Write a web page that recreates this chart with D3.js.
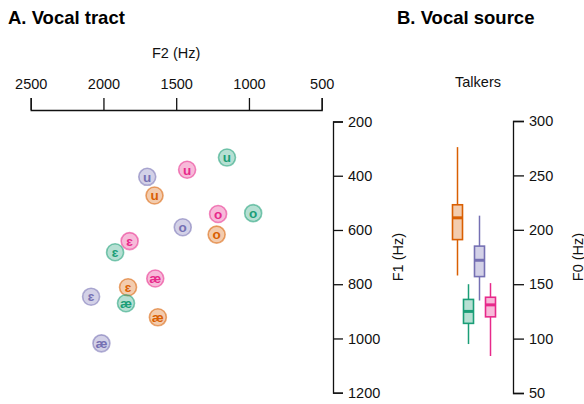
<!DOCTYPE html>
<html>
<head>
<meta charset="utf-8">
<script src="https://cdn.jsdelivr.net/npm/d3@7"></script>
<style>
  body { margin: 0; background: #fff; }
  svg { font-family: "Liberation Sans", Arial, sans-serif; }
  .axis path, .axis line { stroke: #111; stroke-width: 1.3; }
  .axis text { font-size: 14.5px; fill: #111; }
</style>
</head>
<body>
<svg id="chart" width="584" height="404"></svg>
<script>
// talkers (colour order follows the box plot, left to right)
const talkers = ["T1", "T2", "T3", "T4"];
const talkerColors = ["#d95f02", "#1b9e77", "#7570b3", "#e7298a"];

// vowel means per talker
const vowelTalker = ["T2", "T4", "T3", "T1", "T4", "T2", "T3", "T1", "T4", "T2", "T4", "T1", "T3", "T2", "T1", "T3"];
const vowelLabel  = ["u", "u", "u", "u", "o", "o", "o", "o", "ɛ", "ɛ", "æ", "ɛ", "ɛ", "æ", "æ", "æ"];
const vowelF2 = [1151, 1425, 1699, 1649, 1212, 971, 1455, 1222, 1820, 1920, 1644, 1831, 2085, 1845, 1626, 2014];
const vowelF1 = [333, 378, 404, 473, 541, 538, 590, 617, 641, 682, 779, 811, 846, 870, 922, 1018];

// F0 summaries per talker
const f0WhiskerHigh = [276, 150, 213, 151];
const f0Q3 = [223, 136, 185, 138];
const f0Median = [211, 125, 172, 131];
const f0Q1 = [191, 114, 157, 120];
const f0WhiskerLow = [158, 95, 135, 84];

const f2Ticks = [2500, 2000, 1500, 1000, 500];
const f1Ticks = [200, 400, 600, 800, 1000, 1200];
const f0Ticks = [300, 250, 200, 150, 100, 50];

const svg = d3.select("#chart");
const color = d3.scaleOrdinal().domain(talkers).range(talkerColors);

// ---- A. Vocal tract ----
const x = d3.scaleLinear().domain([2500, 500]).range([30.7, 321.7]);
const y = d3.scaleLinear().domain([200, 1200]).range([121.5, 392.7]);

svg.append("text")
    .attr("x", 8).attr("y", 24)
    .attr("font-size", 18.5).attr("font-weight", "bold")
    .text("A. Vocal tract");

svg.append("g")
    .attr("class", "axis")
    .attr("transform", "translate(0,110)")
    .call(d3.axisTop(x).tickValues(f2Ticks).tickSize(12).tickPadding(9).tickFormat(d3.format("d")));

svg.append("text")
    .attr("x", (x(2500) + x(500)) / 2).attr("y", 58)
    .attr("text-anchor", "middle").attr("font-size", 14.5).attr("fill", "#111")
    .text("F2 (Hz)");

svg.append("g")
    .attr("class", "axis")
    .attr("transform", "translate(333,0)")
    .call(d3.axisRight(y).tickValues(f1Ticks).tickSize(10).tickPadding(5).tickFormat(d3.format("d")));

svg.append("text")
    .attr("transform", `translate(403,${(y(200) + y(1200)) / 2}) rotate(-90)`)
    .attr("text-anchor", "middle").attr("font-size", 14.5).attr("fill", "#111")
    .text("F1 (Hz)");

const vowels = vowelLabel.map((v, i) => ({ label: v, talker: vowelTalker[i], f2: vowelF2[i], f1: vowelF1[i] }));

const dots = svg.append("g").selectAll("g")
    .data(vowels)
    .enter()
    .append("g")
    .attr("transform", d => `translate(${x(d.f2)},${y(d.f1)})`);

dots.append("circle")
    .attr("r", 8.5)
    .attr("fill", d => color(d.talker))
    .attr("fill-opacity", 0.32)
    .attr("stroke", d => color(d.talker))
    .attr("stroke-opacity", 0.55)
    .attr("stroke-width", 1.6);

dots.append("text")
    .attr("text-anchor", "middle")
    .attr("dy", "0.35em")
    .attr("font-size", 13.5)
    .attr("font-weight", "bold")
    .attr("fill", d => color(d.talker))
    .text(d => d.label);

// ---- B. Vocal source ----
const xb = d3.scaleBand().domain(talkers).range([452, 496]).padding(0);
const yb = d3.scaleLinear().domain([50, 300]).range([393, 121]);

svg.append("text")
    .attr("x", 397).attr("y", 24)
    .attr("font-size", 18.5).attr("font-weight", "bold")
    .text("B. Vocal source");

svg.append("text")
    .attr("x", 478).attr("y", 87)
    .attr("text-anchor", "middle").attr("font-size", 14.5).attr("fill", "#111")
    .text("Talkers");

svg.append("g")
    .attr("class", "axis")
    .attr("transform", "translate(513,0)")
    .call(d3.axisRight(yb).tickValues(f0Ticks).tickSize(11).tickPadding(5).tickFormat(d3.format("d")));

svg.append("text")
    .attr("transform", `translate(583,${(yb(50) + yb(300)) / 2}) rotate(-90)`)
    .attr("text-anchor", "middle").attr("font-size", 14.5).attr("fill", "#111")
    .text("F0 (Hz)");

const boxes = talkers.map((t, i) => ({
    talker: t, hi: f0WhiskerHigh[i], q3: f0Q3[i], med: f0Median[i], q1: f0Q1[i], lo: f0WhiskerLow[i]
}));

const bw = xb.bandwidth() - 1;
const box = svg.append("g").selectAll("g")
    .data(boxes)
    .enter()
    .append("g")
    .attr("transform", d => `translate(${xb(d.talker) + xb.bandwidth() / 2},0)`);

box.append("line")
    .attr("y1", d => yb(d.hi)).attr("y2", d => yb(d.lo))
    .attr("stroke", d => color(d.talker))
    .attr("stroke-width", 1.5);

box.append("rect")
    .attr("x", -bw / 2).attr("width", bw)
    .attr("y", d => yb(d.q3))
    .attr("height", d => yb(d.q1) - yb(d.q3))
    .attr("fill", "#fff")
    .attr("stroke", "none");

box.append("rect")
    .attr("x", -bw / 2).attr("width", bw)
    .attr("y", d => yb(d.q3))
    .attr("height", d => yb(d.q1) - yb(d.q3))
    .attr("fill", d => color(d.talker))
    .attr("fill-opacity", 0.32)
    .attr("stroke", d => color(d.talker))
    .attr("stroke-width", 1.6);

box.append("line")
    .attr("x1", -bw / 2).attr("x2", bw / 2)
    .attr("y1", d => yb(d.med)).attr("y2", d => yb(d.med))
    .attr("stroke", d => color(d.talker))
    .attr("stroke-width", 3);
</script>
</body>
</html>
